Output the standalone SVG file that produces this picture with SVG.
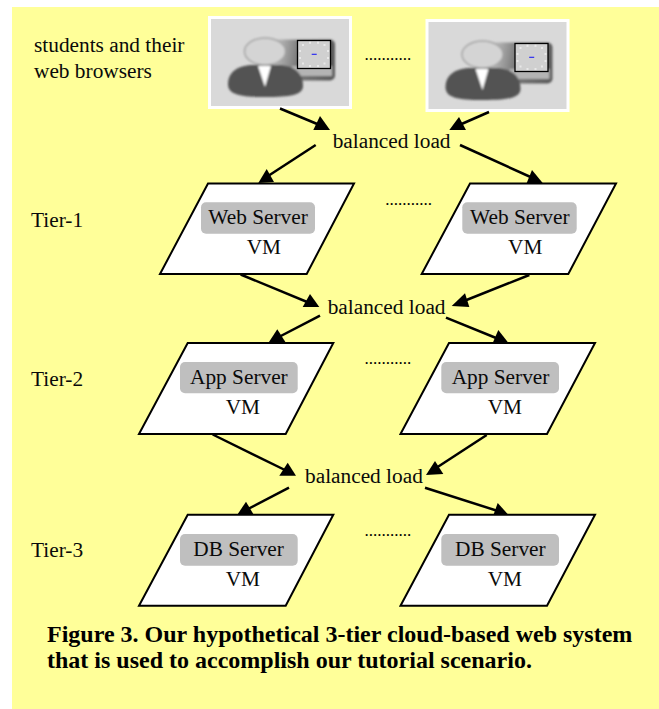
<svg xmlns="http://www.w3.org/2000/svg" width="659" height="709" viewBox="0 0 659 709">
<style>
text{font-family:"Liberation Serif","Times New Roman",serif;font-size:21.33px;fill:#0a0a0a}
.cap{font-weight:bold;font-size:24px;fill:#000}
.para{fill:#fff;stroke:#000;stroke-width:2}
.chip{fill:#bfbfbf}
.ln{stroke:#000;stroke-width:2.500;fill:none}
.hd{fill:#000;stroke:none}
.dots{font-size:17px;fill:#000}
</style>
<defs>
<filter id="soft" x="-10%" y="-10%" width="120%" height="120%"><feGaussianBlur stdDeviation="0.800"/></filter>
<linearGradient id="dev" x1="0" y1="0" x2="1" y2="0.100"><stop offset="0" stop-color="#d8d8d8"/><stop offset="0.500" stop-color="#777"/><stop offset="1" stop-color="#5c5c5c"/></linearGradient>
<g id="user">
<rect x="209.500" y="17.500" width="141" height="90" fill="#d9d9d9" stroke="#fff" stroke-width="3"/>
<g filter="url(#soft)">
<rect x="268" y="39.500" width="67" height="41" rx="5" fill="url(#dev)"/>
<rect x="292" y="66" width="40" height="10" fill="#b4b4b4"/>
<path d="M228 84C228 72 238 65 254 65L277 65C293 65 303 72 303 86C303 95 290 97 265 97C241 97 228 95 228 84Z" fill="#525252"/>
<path d="M258 66L271 66L265 87Z" fill="#fff"/>
<ellipse cx="265" cy="51.500" rx="20.500" ry="13.500" fill="#d4d4d4" stroke="#a4a4a4" stroke-width="1.500"/>
</g>
<rect x="297.500" y="40.500" width="33" height="28" fill="#d0d0d0" stroke="#000" stroke-width="1.300"/>
<g fill="#e8e8e8"><rect x="302" y="44" width="2" height="2"/><rect x="309" y="41.800" width="2" height="2"/><rect x="317" y="41.800" width="2" height="2"/><rect x="323.500" y="44" width="2" height="2"/><rect x="327" y="50" width="2" height="2"/><rect x="327" y="57" width="2" height="2"/><rect x="323.500" y="62.500" width="2" height="2"/><rect x="317" y="65" width="2" height="2"/><rect x="309" y="65" width="2" height="2"/><rect x="302" y="62.500" width="2" height="2"/><rect x="299" y="57" width="2" height="2"/><rect x="299" y="50" width="2" height="2"/></g>
<rect x="311.700" y="53.700" width="5" height="1.300" fill="#3a3aee"/>
</g>
</defs>
<rect id="background" x="12" y="7" width="647" height="702" fill="#ffff99"/>

<g id="node-browser-1"><use href="#user"/></g>
<g id="node-browser-2"><use href="#user" transform="translate(217.500 3)"/></g>
<text id="label-students" x="34" y="52">students and their</text>
<text id="label-browsers" x="34" y="78">web browsers</text>
<text id="dots-1" class="dots" x="364.500" y="60">...........</text>

<g id="connectors">
<g id="c1"><line class="ln" x1="280" y1="108.500" x2="322" y2="126"/><polygon class="hd" points="330,130 313.300,130 320,116"/></g>
<g id="c2"><line class="ln" x1="489" y1="112" x2="457" y2="126"/><polygon class="hd" points="449.300,130 466,130 459,117"/></g>
<g id="c3"><line class="ln" x1="315.700" y1="145" x2="265" y2="178"/><polygon class="hd" points="258.300,183 274,182 266.700,169"/></g>
<g id="c4"><line class="ln" x1="460" y1="145" x2="535" y2="179"/><polygon class="hd" points="542.700,183 526.700,183 532,170"/></g>
<g id="c5"><line class="ln" x1="240.700" y1="274.500" x2="312" y2="304"/><polygon class="hd" points="319.300,307 302.700,307 310,294"/></g>
<g id="c6"><line class="ln" x1="529.300" y1="275" x2="459" y2="303"/><polygon class="hd" points="451.700,306 469.300,307 465,293.300"/></g>
<g id="c7"><line class="ln" x1="320" y1="315.700" x2="275" y2="339"/><polygon class="hd" points="268.300,343 286,343 277.300,329.300"/></g>
<g id="c8"><line class="ln" x1="446" y1="317.700" x2="501" y2="340"/><polygon class="hd" points="508.300,342.700 492.700,343 498.300,330"/></g>
<g id="c9"><line class="ln" x1="212.700" y1="434.500" x2="289" y2="472"/><polygon class="hd" points="296,475.700 279.300,475.700 287.700,462.700"/></g>
<g id="c10"><line class="ln" x1="486.700" y1="435" x2="433" y2="470"/><polygon class="hd" points="426,475 443.300,474 435,461"/></g>
<g id="c11"><line class="ln" x1="289" y1="487.700" x2="244" y2="511"/><polygon class="hd" points="237.300,514.700 253.300,514 246,501.700"/></g>
<g id="c12"><line class="ln" x1="425" y1="487.700" x2="501" y2="512"/><polygon class="hd" points="508.300,514.700 492.700,517 497.700,503"/></g>
</g>

<text id="lb-1" x="332.700" y="148.300">balanced load</text>
<text id="lb-2" x="327.700" y="314">balanced load</text>
<text id="lb-3" x="305" y="483.300">balanced load</text>

<text id="tier-1" x="31" y="226.500">Tier-1</text>
<text id="tier-2" x="31" y="385.700">Tier-2</text>
<text id="tier-3" x="31" y="557.300">Tier-3</text>

<g id="node-web-1"><polygon class="para" points="208,183.500 354,183.500 306.700,274 160,274"/><rect class="chip" x="201" y="202.300" width="114" height="31.400" rx="5"/><text x="208.300" y="224">Web Server</text><text x="246.700" y="254">VM</text></g>
<g id="node-web-2"><polygon class="para" points="470,183.500 616,183.500 568.300,274 421.700,274"/><rect class="chip" x="462.300" y="202.300" width="114.400" height="31.400" rx="5"/><text x="470" y="224">Web Server</text><text x="508" y="254">VM</text></g>
<text id="dots-2" class="dots" x="385.300" y="204.500">...........</text>

<g id="node-app-1"><polygon class="para" points="187.700,343 333.300,343 285.700,434 139,434"/><rect class="chip" x="180" y="362" width="117.700" height="31.300" rx="5"/><text x="190" y="384">App Server</text><text x="225.700" y="414">VM</text></g>
<g id="node-app-2"><polygon class="para" points="449,343 595,343 547,434 400.500,434"/><rect class="chip" x="441.300" y="362" width="117.700" height="31.300" rx="5"/><text x="451.700" y="384">App Server</text><text x="487.700" y="414">VM</text></g>
<text id="dots-3" class="dots" x="364.500" y="363.500">...........</text>

<g id="node-db-1"><polygon class="para" points="187.700,514.700 333.300,514.700 285.700,605.700 139,605.700"/><rect class="chip" x="180" y="534" width="117.700" height="31.700" rx="5"/><text x="193.300" y="556">DB Server</text><text x="225.700" y="586">VM</text></g>
<g id="node-db-2"><polygon class="para" points="449,514.700 595,514.700 547,605.700 400.500,605.700"/><rect class="chip" x="441.300" y="534" width="117.700" height="31.700" rx="5"/><text x="455" y="556">DB Server</text><text x="487.700" y="586">VM</text></g>
<text id="dots-4" class="dots" x="364.500" y="535.500">...........</text>

<text id="caption-1" class="cap" x="47" y="641.700">Figure 3. Our hypothetical 3-tier cloud-based web system</text>
<text id="caption-2" class="cap" x="47" y="668">that is used to accomplish our tutorial scenario.</text>
</svg>
